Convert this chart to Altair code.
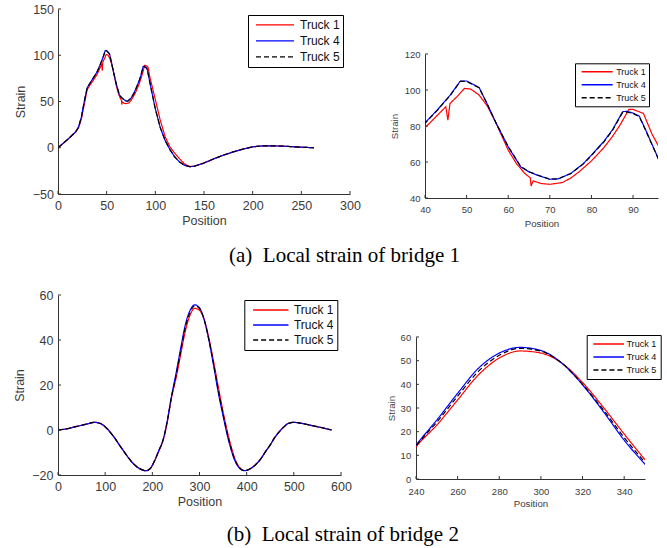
import altair as alt
import pandas as pd

# ---------------- data ----------------
trucks = ["Truck 1", "Truck 4", "Truck 5"]
colors = ["#ff0000", "#0000ff", "#000000"]
dashes = [[1, 0], [1, 0], [5, 3]]

# bridge 1
b1_pos_t1 = [0, 5, 10, 15, 18, 21, 24, 27, 30, 33, 36, 40, 43, 45, 45.5, 46, 48, 49.5, 51, 53,
             55, 57, 60, 62, 64, 65.3, 65.5, 66, 68, 70, 73, 75, 77, 80, 83, 85, 87, 89, 90, 92.5,
             94.5, 96, 100, 105, 110, 115, 120, 125, 130, 135, 140, 150, 160, 170, 180, 190, 200,
             210, 220, 230, 240, 250, 263]
b1_val_t1 = [0, 4.5, 9, 14, 17, 21.5, 31, 47, 63, 68, 72.5, 79, 86, 90.7, 83.3, 92.5, 97, 100.9, 100.5, 97.2,
             91, 82, 66.6, 59, 53.6, 51.2, 46.7, 49.5, 48, 47.6, 48.6, 51, 54.5, 60.6, 68, 74, 81, 89.2, 89.2, 87,
             75.8, 69.4, 52, 30, 12, 1, -6, -12, -17.5, -20, -20, -16.5, -12, -8, -4.5, -1.5, 1,
             2, 2, 1.8, 1.2, 0.6, 0]
b1_pos_t4 = [0, 5, 10, 15, 18, 21, 24, 27, 30, 33, 36, 40, 43, 46, 48.5, 50, 53, 55, 57, 60,
             63, 65, 67, 70, 72, 75, 78, 80, 83, 85, 87.5, 88.5, 90, 91.5, 93, 96, 100, 105, 110, 115,
             120, 125, 130, 135, 140, 150, 160, 170, 180, 190, 200, 210, 220, 230, 240, 250, 263]
b1_val_t4 = [0, 4.5, 9, 14, 17, 22, 33, 50, 65, 70, 75, 81.8, 89, 97, 105, 105, 101.4, 92, 82, 68.4,
             57.3, 54.5, 52.7, 50.4, 50.6, 53.6, 59, 63.8, 71.5, 77.7, 87.9, 88.2, 87.2, 85.5, 78, 62.3, 42, 22, 8, -2,
             -10, -15.5, -19, -20.5, -20, -16.5, -12, -8, -4.5, -1.5, 1, 2, 2, 1.8, 1.2, 0.6, 0]
b1_pos_t5 = [0, 5, 10, 15, 18, 21, 24, 27, 30, 33, 36, 40, 43, 46, 48.5, 50, 53, 55, 57, 60,
             63, 65, 67, 70, 72, 75, 78, 80, 83, 85, 87.5, 88.5, 90, 91.5, 93, 96, 100, 105, 110, 115,
             120, 125, 130, 135, 140, 150, 160, 170, 180, 190, 200, 210, 220, 230, 240, 250, 263]
b1_val_t5 = [0, 4.5, 9, 14, 17, 22, 33, 50, 65, 70, 75, 81.5, 88.8, 96.8, 104.8, 104.8, 101.2, 92, 82, 68.6,
             57.5, 54.6, 52.8, 50.5, 50.7, 53.5, 58.8, 63.6, 71.2, 77.3, 87.5, 87.8, 86.9, 85.2, 77.8, 62.1, 42, 22, 8, -2,
             -10, -15.5, -19, -20.5, -20, -16.5, -12, -8, -4.5, -1.5, 1, 2, 2, 1.8, 1.2, 0.6, 0]

# bridge 2
b2_pos = [0, 20, 40, 60, 78, 90, 100, 110, 120, 130, 140, 150, 160, 170, 180, 186, 195, 205, 215, 220,
          225, 232, 240, 250, 260, 270, 280, 290, 300, 310, 320, 330, 340, 350, 360, 366, 371, 377, 386, 396,
          402, 411, 421, 431, 440, 450, 459, 469, 479, 488, 500, 510, 520, 540, 560, 580]
b2_val_t1 = [0, 0.6, 1.6, 2.6, 3.4, 2.9, 1.4, -0.8, -3.5, -6.6, -9.6, -12.5, -15, -16.8, -17.8, -18.1, -17.3, -13.7, -8.8, -6.4,
             -3, 3.8, 13.6, 22.8, 33.4, 44, 51.1, 54.1, 53.2, 49, 40.8, 30.3, 19, 8.2, -1.5, -6.5, -10.2, -13.7, -16.9, -18,
             -17.8, -16.8, -15, -12.5, -9.6, -6.6, -3.5, -0.8, 1.4, 2.9, 3.4, 3.2, 2.8, 1.9, 1.0, 0]
b2_val_t4 = [0, 0.6, 1.6, 2.6, 3.4, 2.9, 1.4, -0.8, -3.5, -6.6, -9.6, -12.5, -15, -16.8, -17.8, -18.1, -17.2, -13.5, -8.5, -6,
             -2.5, 4.5, 14.3, 24.9, 36.2, 46.8, 53.2, 55.6, 54.3, 49, 39.8, 28.5, 16.4, 6.2, -3.3, -8, -11.5, -14.5, -17.2, -18.1,
             -17.8, -16.8, -15, -12.5, -9.6, -6.6, -3.5, -0.8, 1.4, 2.9, 3.4, 3.2, 2.8, 1.9, 1.0, 0]
b2_val_t5 = [0, 0.6, 1.6, 2.6, 3.4, 2.9, 1.4, -0.8, -3.5, -6.6, -9.6, -12.5, -15, -16.8, -17.8, -18.1, -17.2, -13.6, -8.6, -6.2,
             -2.7, 4.2, 14, 24, 35, 45.5, 52.3, 55.2, 54, 49, 40, 29.2, 17.5, 7, -2.5, -7.4, -11, -14.2, -17.1, -18.1,
             -17.8, -16.8, -15, -12.5, -9.6, -6.6, -3.5, -0.8, 1.4, 2.9, 3.4, 3.2, 2.8, 1.9, 1.0, 0]

captions = ["(a)\u00a0\u00a0Local strain of bridge 1", "(b)\u00a0\u00a0Local strain of bridge 2"]

# ---------------- styling ----------------
SANS = "Liberation Sans"
SERIF = "Liberation Serif"
AXC = "#333333"
LABC = "#3c3c3c"


def long_df(pos_lists, val_lists):
    rows = []
    for name, ps, vs in zip(trucks, pos_lists, val_lists):
        for p, v in zip(ps, vs):
            rows.append({"Position": p, "Strain": v, "Truck": name})
    return pd.DataFrame(rows)


df1 = long_df([b1_pos_t1, b1_pos_t4, b1_pos_t5], [b1_val_t1, b1_val_t4, b1_val_t5])
df2 = long_df([b2_pos, b2_pos, b2_pos], [b2_val_t1, b2_val_t4, b2_val_t5])


def panel(df, xdom, ydom, xticks, yticks, w, h, fs, tfs, xlp, ylp, ytx, xty,
          lx, ly, lsym, lclip, lpad, lsoff, lloff, lfs, interp):
    xs = alt.Scale(domain=xdom, nice=False, zero=False)
    ys = alt.Scale(domain=ydom, nice=False, zero=False)
    xaxis = alt.Axis(values=xticks, title="Position", grid=False, ticks=False, tickSize=0,
                     labelFont=SANS, labelFontSize=fs, labelColor=LABC, labelPadding=xlp,
                     labelFlush=False, labelOverlap=False, domainColor=AXC, domainWidth=1,
                     titleFont=SANS, titleFontSize=tfs, titleFontWeight="normal", titleColor=LABC,
                     titleY=xty, titleBaseline="alphabetic", titleAlign="center")
    yaxis = alt.Axis(values=yticks, title="Strain", grid=False, ticks=False, tickSize=0,
                     labelFont=SANS, labelFontSize=fs, labelColor=LABC, labelPadding=ylp,
                     labelFlush=False, labelOverlap=False, domainColor=AXC, domainWidth=1,
                     titleFont=SANS, titleFontSize=tfs, titleFontWeight="normal", titleColor=LABC,
                     titleX=ytx, titleY=h / 2, titleAngle=270, titleAlign="center",
                     titleBaseline="middle")
    legend = alt.Legend(title=None, orient="none", legendX=lx, legendY=ly,
                        symbolType="stroke", symbolSize=lsym, symbolStrokeWidth=1.4,
                        clipHeight=lclip, rowPadding=2, padding=lpad, symbolOffset=lsoff,
                        labelOffset=lloff, labelFont=SANS, labelFontSize=lfs, labelColor="#111111",
                        strokeColor="#000000", fillColor="#ffffff", cornerRadius=0)
    lines = alt.Chart(df).mark_line(strokeWidth=1.2, interpolate=interp, clip=True).encode(
        x=alt.X("Position:Q", scale=xs, axis=xaxis),
        y=alt.Y("Strain:Q", scale=ys, axis=yaxis),
        color=alt.Color("Truck:N", scale=alt.Scale(domain=trucks, range=colors), legend=legend),
        strokeDash=alt.StrokeDash("Truck:N", scale=alt.Scale(domain=trucks, range=dashes), legend=legend),
    )
    xt = alt.Chart(pd.DataFrame({"Position": xticks})).mark_rule(color=AXC, strokeWidth=1).encode(
        x=alt.X("Position:Q", scale=xs, axis=xaxis), y=alt.value(h), y2=alt.value(h - 3))
    yt = alt.Chart(pd.DataFrame({"Strain": yticks})).mark_rule(color=AXC, strokeWidth=1).encode(
        y=alt.Y("Strain:Q", scale=ys, axis=yaxis), x=alt.value(0), x2=alt.value(3))
    return alt.layer(lines, xt, yt).properties(width=w, height=h)


def spacer(h):
    return alt.Chart(pd.DataFrame({"s": [0]})).mark_rect(opacity=0).encode(
        x=alt.value(0), x2=alt.value(1), y=alt.value(0), y2=alt.value(1)
    ).properties(width=1, height=h)


def indep(c):
    return c.resolve_scale(color="independent", strokeDash="independent").resolve_legend(
        color="independent", strokeDash="independent")


p1 = panel(df1, [0, 300], [-50, 150], [0, 50, 100, 150, 200, 250, 300], [-50, 0, 50, 100, 150],
           292, 185, 12.5, 12.5, 5, 4.5, -38, 30,
           190, 6, 1444, 13.8, 3, 4, 5, 12, "linear")
p2 = panel(df1, [40, 96], [40, 120], [40, 50, 60, 70, 80, 90], [40, 60, 80, 100, 120],
           233, 144, 9.5, 9.7, 6.5, 5, -30.5, 28.5,
           150, 9.3, 961, 10.5, 3.15, 2.5, 2.5, 9, "linear")
p3 = panel(df2, [0, 600], [-20, 60], [0, 100, 200, 300, 400, 500, 600], [-20, 0, 20, 40, 60],
           283, 180, 12.5, 12.5, 5, 5, -38.5, 30,
           186.3, 5, 1253, 13, 3.5, 4.5, 4.6, 12, "monotone")
p4 = panel(df2, [240, 350], [0, 60], [240, 260, 280, 300, 320, 340], [0, 10, 20, 30, 40, 50, 60],
           229, 142, 9.5, 9.7, 7, 5.3, -24.3, 27,
           170.7, -2, 936, 10.2, 3.9, 2.1, 1.7, 9.1, "monotone")


def caption(text, offset, dx):
    return alt.TitleParams(text, orient="bottom", anchor="middle", frame="bounds", offset=offset,
                           dx=dx, font=SERIF, fontSize=21, fontWeight="normal", color="#000000")


row1 = indep(alt.hconcat(p1, indep(alt.vconcat(spacer(45), p2, spacing=0, bounds="flush")),
                         spacing=75, bounds="flush", title=caption(captions[0], 17, 8.5)))
row2 = indep(alt.hconcat(p3, indep(alt.vconcat(spacer(42), p4, spacing=0, bounds="flush")),
                         spacing=75, bounds="flush", title=caption(captions[1], 16, 5.5)))

# nested concat groups count as zero-size in a flush layout, so the spacing
# below is the full offset from the top of row 1 to the top of row 2
chart = indep(alt.vconcat(row1, row2, spacing=286, bounds="flush")).properties(
    autosize=alt.AutoSizeParams(type="none"),
    padding={"left": 58, "top": 9, "right": 609, "bottom": 539},
    background="#ffffff",
).configure_view(stroke=None)

chart.save("out.html", embed_options={"renderer": "svg", "actions": False})
